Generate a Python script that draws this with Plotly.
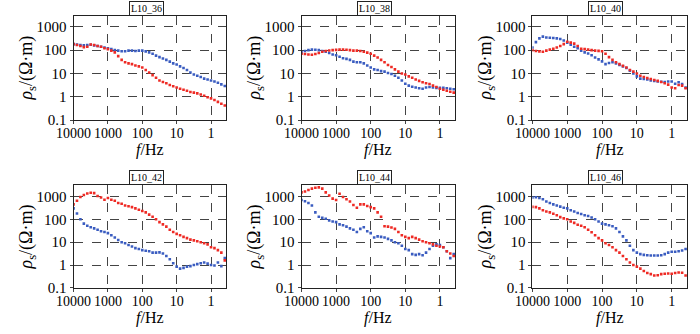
import plotly.graph_objects as go

# Frequencies (Hz), 10 per decade from 10000 Hz down to ~0.4 Hz
freq = [10000, 7943, 6310, 5012, 3981, 3162, 2512, 1995, 1585, 1259,
        1000, 794.3, 631.0, 501.2, 398.1, 316.2, 251.2, 199.5, 158.5, 125.9,
        100, 79.43, 63.10, 50.12, 39.81, 31.62, 25.12, 19.95, 15.85, 12.59,
        10, 7.943, 6.310, 5.012, 3.981, 3.162, 2.512, 1.995, 1.585, 1.259,
        1.0, 0.7943, 0.6310, 0.5012, 0.3981]

titles = ["L10_36", "L10_38", "L10_40", "L10_42", "L10_44", "L10_46"]

red_36 = [180, 165, 150, 135, 140, 175, 165, 150, 140, 120, 110, 95, 80, 55, 38, 30, 27, 25, 22, 20,
          18, 14, 11, 8.5, 6.5, 5, 4.3, 3.8, 3.2, 2.8, 2.5, 2.2, 2, 1.8, 1.6, 1.5, 1.4, 1.25, 1.1, 0.95,
          0.85, 0.72, 0.6, 0.5, 0.42]
blue_36 = [180, 175, 165, 160, 165, 170, 160, 150, 140, 130, 120, 110, 100, 95, 90, 90, 95, 95, 92, 95,
           95, 88, 80, 70, 58, 50, 44, 38, 32, 27, 24, 20, 17, 14, 11, 9, 8, 7, 6, 5.5,
           5, 4.5, 4, 3.4, 2.9]

red_38 = [70, 68, 65, 63, 68, 75, 85, 92, 97, 100, 102, 105, 105, 103, 100, 95, 95, 92, 85, 78,
          70, 58, 48, 38, 30, 23, 19, 15, 12, 10, 9, 7.5, 6.5, 5.5, 4.8, 4.2, 3.8, 3.5, 3, 2.6,
          2.2, 2.0, 1.8, 1.65, 1.5]
blue_38 = [80, 92, 100, 105, 103, 100, 92, 85, 75, 65, 60, 52, 45, 42, 38, 32, 30, 30, 27, 22,
           18, 15, 14, 12.5, 12, 10.5, 9.5, 8, 6.5, 5, 3.6, 3, 2.7, 2.5, 2.3, 2.2, 2.5, 2.6, 2.5, 2.4,
           2.4, 2.4, 2.3, 2.2, 2.1]

red_40 = [100, 92, 88, 85, 95, 105, 115, 130, 150, 180, 230, 210, 190, 150, 115, 110, 105, 100, 95, 93,
          90, 70, 50, 38, 30, 25, 21, 18, 14, 12, 10, 8, 7, 6.3, 5.8, 5.2, 4.8, 4.3, 3.8, 3.3,
          2.5, 2.3, 3.2, 3, 2.3]
blue_40 = [130, 220, 320, 380, 350, 340, 330, 320, 300, 260, 210, 170, 140, 120, 95, 80, 72, 60, 48, 40,
           33, 25, 28, 30, 27, 23, 20, 17, 13, 10, 7.5, 6, 5.8, 5.5, 5, 4.8, 4.5, 4.4, 4.3, 4.5,
           4.5, 3.6, 4.2, 3.5, 2.5]

red_42 = [450, 650, 950, 1150, 1350, 1450, 1400, 1050, 900, 720, 850, 720, 650, 520, 480, 400, 370, 340, 300, 260,
          230, 200, 160, 130, 100, 75, 60, 48, 35, 28, 23, 20, 17, 15, 13, 12, 11, 10, 9, 8,
          6, 5.5, 4.5, 3.5, 1.6]
blue_42 = [300, 180, 100, 65, 52, 45, 40, 35, 30, 28, 25, 20, 16, 12.5, 10, 9, 7.5, 6.5, 5.5, 5,
           4.5, 4.2, 4, 3.5, 3.5, 3.6, 3.2, 2.5, 1.8, 1.2, 0.85, 0.7, 0.75, 0.85, 0.9, 1.0, 1.1, 1.2, 1.3, 1.15,
           1.0, 0.95, 1.3, 0.9, 2.0]

red_44 = [1500, 1650, 1900, 2200, 2400, 2500, 2200, 1500, 1100, 800, 700, 1300, 950, 750, 600, 420, 320, 450, 450, 380,
          340, 300, 200, 130, 50, 48, 44, 38, 28, 20, 17, 15, 17, 15, 13, 11, 10, 9, 8, 7,
          6.5, 6, 4, 3.2, 2.5]
blue_44 = [700, 620, 520, 400, 200, 130, 115, 105, 90, 80, 75, 60, 55, 48, 40, 35, 28, 38, 45, 30,
           25, 16, 18, 17, 16, 14, 12, 10, 9, 7, 5, 4.5, 3, 2.8, 3, 2.7, 3.5, 5, 7, 8,
           7.5, 6, 4, 2, 3]

red_46 = [350, 340, 300, 250, 220, 200, 175, 150, 125, 110, 100, 80, 70, 58, 52, 45, 35, 27, 20, 15,
          12, 9, 7.5, 6, 4.5, 3.5, 2.5, 1.8, 1.3, 1.0, 0.85, 0.7, 0.55, 0.45, 0.4, 0.35, 0.36, 0.4, 0.42, 0.43,
          0.42, 0.45, 0.47, 0.46, 0.35]
blue_46 = [900, 920, 850, 750, 600, 520, 450, 400, 360, 320, 300, 250, 220, 190, 170, 150, 140, 120, 100, 80,
           65, 60, 55, 50, 40, 28, 18, 12, 7, 4.5, 3.5, 3, 2.8, 2.7, 2.6, 2.6, 2.6, 2.7, 3, 3.5,
           3.8, 3.8, 4, 4.3, 5]

red_series = [red_36, red_38, red_40, red_42, red_44, red_46]
blue_series = [blue_36, blue_38, blue_40, blue_42, blue_44, blue_46]

x_ticks = [10000, 1000, 100, 10, 1]
x_ticktext = ["10000", "1000", "100", "10", "1"]
y_ticks = [0.1, 1, 10, 100, 1000]
y_ticktext = ["0.1", "1", "10", "100", "1000"]

W, H = 700, 334
RED = "#ee2a24"
BLUE = "#3a5cc0"
FONT = "Liberation Serif"

# pixel boxes (left, right, top, bottom)
col_px = [(57, 214), (291, 449), (528, 687)]
row_px = [(16, 123), (190, 295)]

fig = go.Figure()
annotations = []
for k in range(6):
    r, c = divmod(k, 3)
    l, rr = col_px[c]
    t, b = row_px[r]
    xa = "x" if k == 0 else f"x{k+1}"
    ya = "y" if k == 0 else f"y{k+1}"
    xkey = "xaxis" if k == 0 else f"xaxis{k+1}"
    ykey = "yaxis" if k == 0 else f"yaxis{k+1}"
    common = dict(type="log", showline=True, linecolor="#222", linewidth=1, mirror=True,
                  showgrid=True, gridcolor="#444", griddash="dash", gridwidth=1,
                  ticks="outside", ticklen=3, tickcolor="#444", tickangle=0, zeroline=False)
    fig.update_layout({
        xkey: dict(common, domain=[l / W, rr / W], anchor=ya, range=[4, -0.45],
                   tickvals=x_ticks, ticktext=x_ticktext, ticklabelstandoff=-3,
                   tickfont=dict(family=FONT, size=14, color="black")),
        ykey: dict(common, domain=[1 - b / H, 1 - t / H], anchor=xa, range=[-1, 3.48],
                   tickvals=y_ticks, ticktext=y_ticktext,
                   tickfont=dict(family=FONT, size=15, color="black")),
    })
    fig.add_trace(go.Scatter(x=freq, y=blue_series[k], mode="markers", xaxis=xa, yaxis=ya,
                             marker=dict(color=BLUE, size=2.6, symbol="square", line=dict(width=0)),
                             showlegend=False))
    fig.add_trace(go.Scatter(x=freq, y=red_series[k], mode="markers", xaxis=xa, yaxis=ya,
                             marker=dict(color=RED, size=2.6, symbol="square", line=dict(width=0)),
                             showlegend=False))
    cx = (l + rr) / 2
    # panel title box
    annotations.append(dict(text=titles[k], xref="paper", yref="paper", x=(cx - 4) / W, y=1 - t / H,
                            xanchor="center", yanchor="bottom", showarrow=False,
                            font=dict(family=FONT, size=10, color="black"),
                            bordercolor="#222", borderwidth=1, borderpad=1, bgcolor="white"))
    # x axis title
    annotations.append(dict(text="<i>f</i>/Hz", xref="paper", yref="paper", x=cx / W, y=1 - (b + 31) / H,
                            xanchor="center", yanchor="middle", showarrow=False,
                            font=dict(family=FONT, size=16, color="black")))
    # y axis title
    annotations.append(dict(text="<i>ρ</i><sub>s</sub>/(Ω·m)", xref="paper", yref="paper",
                            x=(l - 47) / W, y=1 - ((t + b) / 2) / H, textangle=-90,
                            xanchor="center", yanchor="middle", showarrow=False,
                            font=dict(family=FONT, size=18, color="black")))

fig.update_layout(width=W, height=H, margin=dict(l=0, r=0, t=0, b=0),
                  paper_bgcolor="white", plot_bgcolor="white", annotations=annotations)
fig.write_html("out.html")
